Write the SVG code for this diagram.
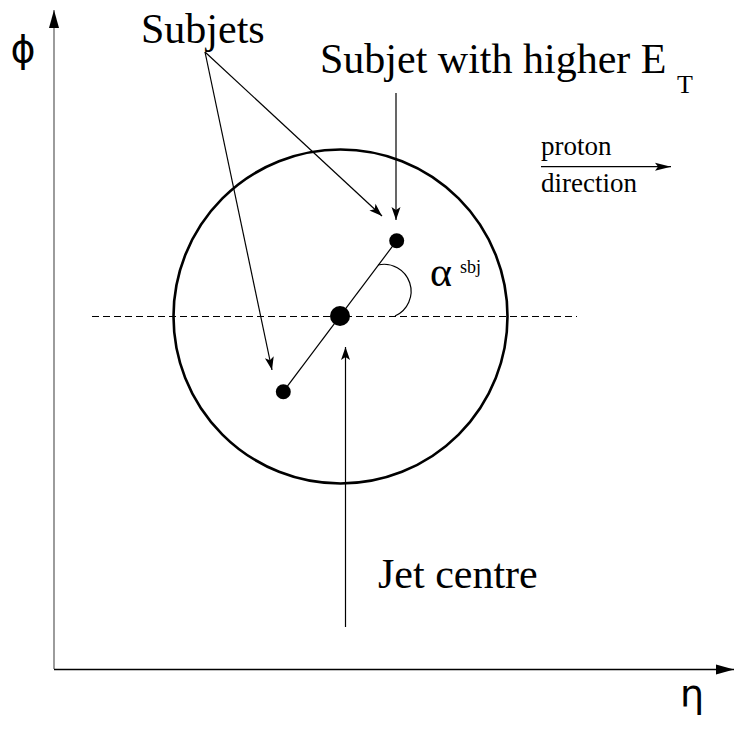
<svg xmlns="http://www.w3.org/2000/svg" width="735" height="729" viewBox="0 0 735 729">
<style>
.t{font-family:"Liberation Serif","Times New Roman",serif;fill:#000}
.g{font-family:"DejaVu Sans","Liberation Sans",sans-serif;fill:#000}
.ln{stroke:#000;fill:none}
</style>
<defs>
<marker id="ah" markerUnits="userSpaceOnUse" markerWidth="20" markerHeight="14" viewBox="-14 -7 16 14" refX="0" refY="0" orient="auto">
<path d="M0,0 L-13,-4.5 L-10,0 L-13,4.5 Z" fill="#000"/>
</marker>
<marker id="ax" markerUnits="userSpaceOnUse" markerWidth="22" markerHeight="14" viewBox="-20 -7 22 14" refX="0" refY="0" orient="auto">
<path d="M0,0 L-18,-5 L-18,5 Z" fill="#000"/>
</marker>
<marker id="pa" markerUnits="userSpaceOnUse" markerWidth="20" markerHeight="12" viewBox="-18 -6 20 12" refX="0" refY="0" orient="auto">
<path d="M0,0 L-16,-4 L-13,0 L-16,4 Z" fill="#000"/>
</marker>
</defs>
<rect width="735" height="729" fill="#fff"/>
<g id="axes">
<line x1="54" y1="669" x2="54" y2="10" stroke="#666" stroke-width="1.3" marker-end="url(#ax)"/>
<line class="ln" x1="54" y1="669.5" x2="734" y2="669.5" stroke-width="1.3" marker-end="url(#ax)"/>
<text class="g" x="23" y="62" font-size="38" text-anchor="middle">ϕ</text>
<text class="g" x="692" y="707" font-size="38" text-anchor="middle">η</text>
</g>
<g id="jet">
<circle class="ln" cx="340.5" cy="316.5" r="167" stroke-width="2.6"/>
<line class="ln" x1="92" y1="316.5" x2="577" y2="316.5" stroke-width="1" stroke-dasharray="7,4"/>
<line class="ln" x1="283.3" y1="391.7" x2="396.7" y2="240.7" stroke-width="1.2"/>
<path class="ln" d="M378,265 A27,27 0 0,1 395,316" stroke-width="1.2"/>
</g>
<g id="subjet-high"><circle cx="396.7" cy="240.7" r="7.5" fill="#000"/></g>
<g id="subjet-low"><circle cx="283.3" cy="391.7" r="7.5" fill="#000"/></g>
<g id="jet-centre"><circle cx="340" cy="316" r="10" fill="#000"/></g>
<g id="connectors">
<line class="ln" x1="205" y1="52" x2="382" y2="216" stroke-width="1.2" marker-end="url(#ah)"/>
<line class="ln" x1="205" y1="52" x2="272" y2="370" stroke-width="1.2" marker-end="url(#ah)"/>
<line class="ln" x1="396" y1="93" x2="396" y2="220" stroke-width="1.2" marker-end="url(#ah)"/>
<line class="ln" x1="345.5" y1="627" x2="345.5" y2="347" stroke-width="1.2" marker-end="url(#ah)"/>
<line class="ln" x1="541" y1="166.7" x2="671" y2="166.7" stroke-width="1.3" marker-end="url(#pa)"/>
</g>
<g id="labels">
<text class="t" x="141" y="43" font-size="42">Subjets</text>
<text class="t" x="320" y="73" font-size="42">Subjet with higher E</text>
<text class="t" x="677" y="93" font-size="26">T</text>
<text class="t" x="541" y="155" font-size="27">proton</text>
<text class="t" x="541" y="192" font-size="27">direction</text>
<text class="t" x="378" y="588" font-size="42">Jet centre</text>
<text class="t" x="430" y="286" font-size="42">α</text>
<text class="t" x="460" y="273" font-size="18">sbj</text>
</g>
</svg>
